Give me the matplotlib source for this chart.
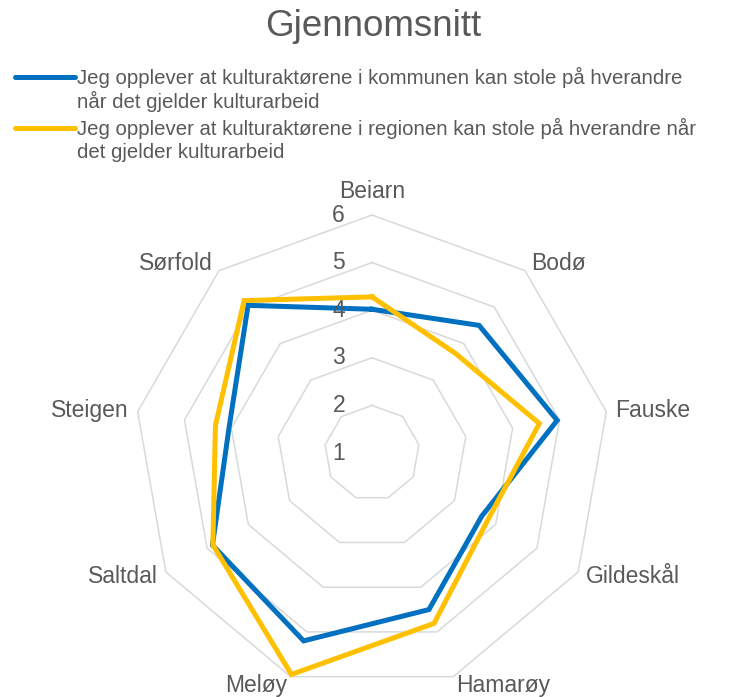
import numpy as np
import matplotlib
matplotlib.use("Agg")
import matplotlib.pyplot as plt
from matplotlib.lines import Line2D

# data
kommuner = ["Beiarn", "Bodø", "Fauske", "Gildeskål", "Hamarøy",
            "Meløy", "Saltdal", "Steigen", "Sørfold"]
kommune_serie = [4.02, 4.50, 4.95, 3.66, 4.50, 5.20, 4.87, 4.05, 5.05]
region_serie = [4.28, 3.73, 4.57, 3.81, 4.81, 5.95, 4.86, 4.34, 5.18]
ringer = [1, 2, 3, 4, 5, 6]
serienavn = [
    "Jeg opplever at kulturaktørene i kommunen kan stole på hverandre\n"
    "når det gjelder kulturarbeid",
    "Jeg opplever at kulturaktørene i regionen kan stole på hverandre når\n"
    "det gjelder kulturarbeid",
]
farger = ["#0070C0", "#FFC000"]

plt.rcParams['font.family'] = ['Liberation Sans', 'DejaVu Sans']
grey = '#595959'

W, H = 742, 697
fig = plt.figure(figsize=(W / 100, H / 100), dpi=100)

# radar centre at (372, 453) px, outer ring radius 238 px
cx, cy, R = 372, 453, 238
ax = fig.add_axes([(cx - R) / W, (H - cy - R) / H, 2 * R / W, 2 * R / H],
                  projection='polar')
ax.set_theta_zero_location('N')
ax.set_theta_direction(-1)
ax.set_ylim(ringer[0], ringer[-1])
ax.axis('off')

n = len(kommuner)
vinkler = np.arange(n) * 2 * np.pi / n
lukket = np.append(vinkler, vinkler[0])

# polygon gridlines
for r in ringer[1:]:
    ax.plot(lukket, [r] * (n + 1), color='#D9D9D9', lw=1.1,
            zorder=1, clip_on=False)

linjer = []
for i, (vals, c) in enumerate(zip([kommune_serie, region_serie], farger)):
    ln, = ax.plot(lukket, vals + vals[:1], color=c, lw=3.6,
                  solid_joinstyle='miter', zorder=3 + i, clip_on=False)
    linjer.append(ln)

# radial tick labels along the first spoke
for r in ringer:
    ax.annotate(str(r), xy=(0, r), xytext=(-27, 0), textcoords='offset pixels',
                ha='right', va='center', fontsize=16.5, color=grey,
                annotation_clip=False)

# category labels
for a, navn in zip(vinkler, kommuner):
    s, c = np.sin(a), np.cos(a)
    if abs(s) < 0.1:
        ha, off = 'center', (0, 23)
    else:
        ha = 'left' if s > 0 else 'right'
        off = (9 * s, 9 * c)
    ax.annotate(navn, xy=(a, ringer[-1]), xytext=off,
                textcoords='offset pixels', ha=ha, va='center',
                fontsize=16.5, color=grey, annotation_clip=False)

fig.text(373 / W, 1 - 27 / H, "Gjennomsnitt", ha='center', va='center',
         fontsize=26.5, color=grey)

# legend, Excel style: handle next to first line of each entry
y0 = [77, 128]
for ln, navn, y in zip(linjer, serienavn, y0):
    fig.add_artist(Line2D([15 / W, 75 / W], [1 - y / H] * 2,
                          color=ln.get_color(), lw=3.6,
                          solid_capstyle='round'))
    for k, tekst in enumerate(navn.split("\n")):
        fig.text(77 / W, 1 - (y + 24.5 * k) / H, tekst, ha='left',
                 va='center', fontsize=14.7, color=grey)

fig.savefig("out.png", dpi=100)
